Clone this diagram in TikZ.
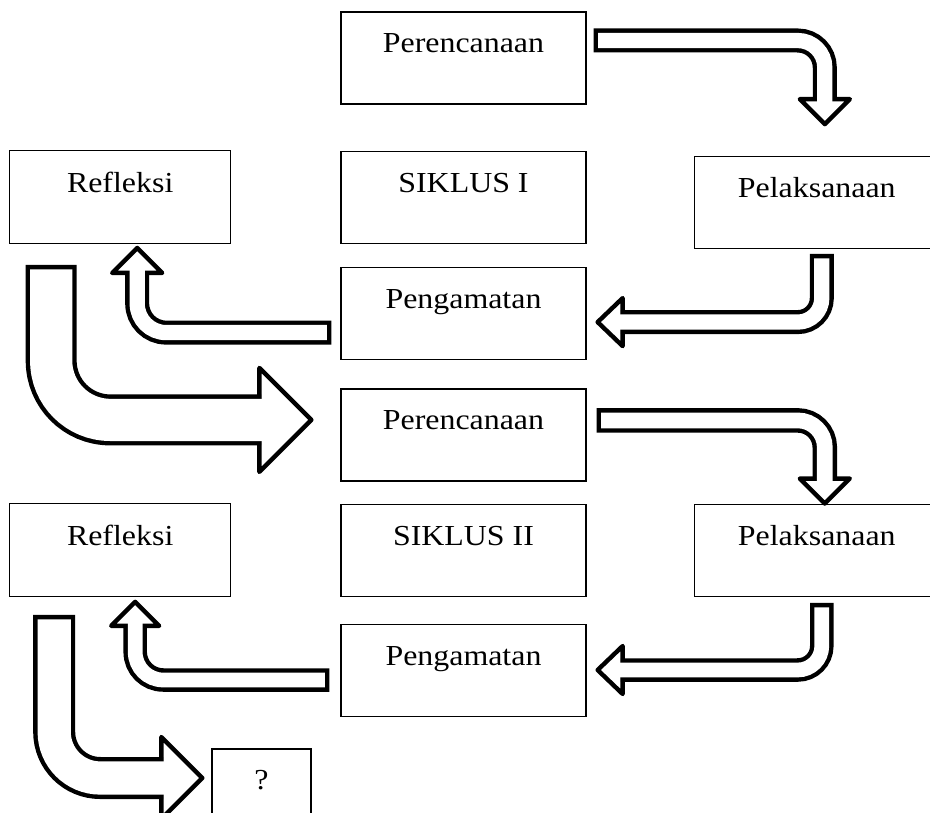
\documentclass[tikz,border=0pt]{standalone}
\usepackage{fontspec}
\setmainfont{Liberation Serif}[FakeStretch=1.1]
\usetikzlibrary{positioning, calc}
\tikzset{
    stage/.style={rectangle, draw, line width=1.3pt, minimum width=245pt,
        text height=41pt, text depth=51pt, inner sep=0pt},
    sidestage/.style={stage, minimum width=221pt, text height=42pt},
    blkhead/.style={draw, fill=white, line width=4.4pt, line join=round},
    shaftout/.style={draw=black, line width=#1},
    shaftin/.style={draw=white, line width=#1-8.8pt, shorten <=4.4pt, shorten >=-3pt}
}

\begin{document}
\begin{tikzpicture}[x=1pt, y=-1pt, font=\fontsize{29}{34}\selectfont]

    \clip (0,0) rectangle (930,813);

    \node[stage] (plan1) at (463.5,58) {Perencanaan};
    \node[stage, below=46pt of plan1] (siklus1) {SIKLUS I};
    \node[stage, below=23pt of siklus1] (amat1) {Pengamatan};
    \node[stage, below=28pt of amat1] (plan2) {Perencanaan};
    \node[stage, below=22pt of plan2] (siklus2) {SIKLUS II};
    \node[stage, below=27pt of siklus2] (amat2) {Pengamatan};

    \node[sidestage, left=109pt of siklus1] (refl1) {Refleksi};
    \node[stage, right=107pt of siklus1, yshift=-5.5pt] (laks1) {Pelaksanaan};
    \node[sidestage, left=109pt of siklus2] (refl2) {Refleksi};
    \node[stage, right=107pt of siklus2] (laks2) {Pelaksanaan};
    \node[stage, minimum width=99pt, text height=40pt, text depth=30pt,
        below right=151pt and -20pt of refl2] (tanya) {?};

    % siklus I
    \draw[blkhead] ($(laks1.north)+(8,-32)$) -- ++(-25,-25) -- ++(50,0) -- cycle;
    \draw[shaftout=24pt, rounded corners=27pt] ($(plan1.east)+(7,-17.5)$) -| ($(laks1.north)+(8,-55.2)$);
    \draw[shaftin=24pt, rounded corners=27pt] ($(plan1.east)+(7,-17.5)$) -| ($(laks1.north)+(8,-55.2)$);

    \draw[blkhead] ($(amat1.east)+(11,8.5)$) -- ++(25,-24) -- ++(0,48) -- cycle;
    \draw[shaftout=24pt, rounded corners=24pt] ($(laks1.south)+(5,4.5)$) |- ($(amat1.east)+(34.2,8.5)$);
    \draw[shaftin=24pt, rounded corners=24pt] ($(laks1.south)+(5,4.5)$) |- ($(amat1.east)+(34.2,8.5)$);

    \draw[blkhead] ($(refl1.south)+(17,3.5)$) -- ++(-25,25) -- ++(50,0) -- cycle;
    \draw[shaftout=24pt, rounded corners=29pt] ($(amat1.west)+(-9,19)$) -| ($(refl1.south)+(17,26.7)$);
    \draw[shaftin=24pt, rounded corners=29pt] ($(amat1.west)+(-9,19)$) -| ($(refl1.south)+(17,26.7)$);

    \draw[blkhead] ($(plan2.west)+(-29,-15)$) -- ++(-52,-52) -- ++(0,104) -- cycle;
    \draw[shaftout=51pt, rounded corners=59pt] ($(refl1.south)+(-69,20.5)$) |- ($(plan2.west)+(-79.2,-15)$);
    \draw[shaftin=51pt, rounded corners=59pt] ($(refl1.south)+(-69,20.5)$) |- ($(plan2.west)+(-79.2,-15)$);

    % siklus II
    \draw[blkhead] ($(laks2.north)+(8,0)$) -- ++(-25,-25) -- ++(50,0) -- cycle;
    \draw[shaftout=24.5pt, rounded corners=27pt] ($(plan2.east)+(10,-14.5)$) -| ($(laks2.north)+(8,-23.2)$);
    \draw[shaftin=24.5pt, rounded corners=27pt] ($(plan2.east)+(10,-14.5)$) -| ($(laks2.north)+(8,-23.2)$);

    \draw[blkhead] ($(amat2.east)+(11,-0.5)$) -- ++(25,-24) -- ++(0,48) -- cycle;
    \draw[shaftout=23.5pt, rounded corners=24pt] ($(laks2.south)+(5,6)$) |- ($(amat2.east)+(34.2,-0.5)$);
    \draw[shaftin=23.5pt, rounded corners=24pt] ($(laks2.south)+(5,6)$) |- ($(amat2.east)+(34.2,-0.5)$);

    \draw[blkhead] ($(refl2.south)+(15,4.5)$) -- ++(-24,24) -- ++(48,0) -- cycle;
    \draw[shaftout=23.5pt, rounded corners=28pt] ($(amat2.west)+(-11,9.5)$) -| ($(refl2.south)+(15,26.7)$);
    \draw[shaftin=23.5pt, rounded corners=28pt] ($(amat2.west)+(-11,9.5)$) -| ($(refl2.south)+(15,26.7)$);

    \draw[blkhead] ($(tanya.west)+(-9,-6)$) -- ++(-41,-41) -- ++(0,82) -- cycle;
    \draw[shaftout=42pt, rounded corners=46pt] ($(refl2.south)+(-66,17.5)$) |- ($(tanya.west)+(-48.2,-6)$);
    \draw[shaftin=42pt, rounded corners=46pt] ($(refl2.south)+(-66,17.5)$) |- ($(tanya.west)+(-48.2,-6)$);

\end{tikzpicture}
\end{document}
